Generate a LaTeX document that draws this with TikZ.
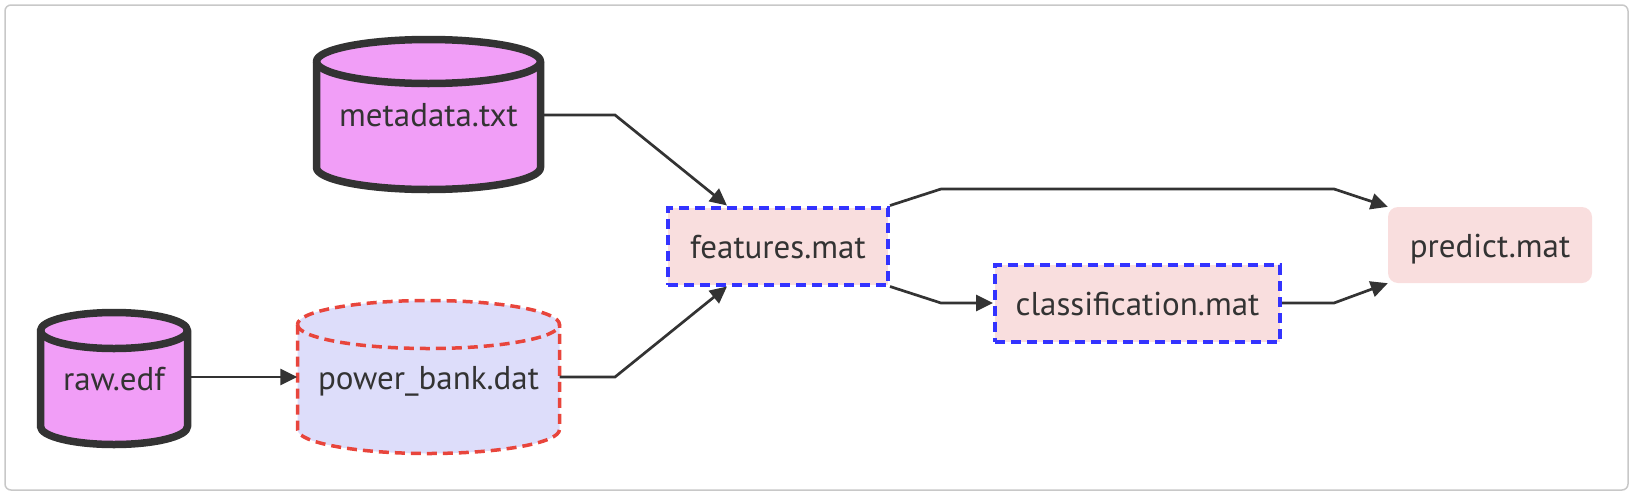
\documentclass[tikz,border=0pt]{standalone}
\usepackage{fontspec}
\setmainfont{PT Sans}
\usetikzlibrary{arrows.meta}
\definecolor{ink}{HTML}{333333}
\definecolor{violetfill}{HTML}{F19EF7}
\definecolor{lavfill}{HTML}{DDDDFA}
\definecolor{redstroke}{HTML}{E8453C}
\definecolor{pinkfill}{HTML}{F9DEDE}
\definecolor{bluestroke}{HTML}{3333FF}
\definecolor{framegray}{HTML}{C8C8C8}
\newcommand\cylshape[6]{%
  \pgfmathsetmacro\rxx{(#3-#2)/2}%
  \path[#1] (#2,#4+#6) -- (#2,#5-#6) arc[start angle=180,end angle=0,x radius=\rxx,y radius=#6] -- (#3,#4+#6) arc[start angle=0,end angle=-180,x radius=\rxx,y radius=#6] -- cycle;
  \draw[#1,fill=none] (#2,#4+#6) arc[start angle=180,end angle=0,x radius=\rxx,y radius=#6];
}
\tikzset{
  lbl/.style={font=\fontsize{33}{38}\selectfont, text=ink, inner sep=0pt, draw=none, text height=24pt, text depth=0pt},
  thickcyl/.style={draw=ink, line width=7.5pt, fill=violetfill, line join=round},
  dashcyl/.style={draw=redstroke, line width=3.5pt, fill=lavfill, dash pattern=on 10pt off 6pt},
  dashbox/.style={lbl, rectangle, draw=bluestroke, line width=4pt, fill=pinkfill, dash pattern=on 10pt off 6pt},
  softbox/.style={lbl, rectangle, fill=pinkfill, rounded corners=10pt},
  link/.style={draw=ink, line width=2.7pt, -{Triangle[length=17pt,width=16pt]}},
}
\begin{document}
\begin{tikzpicture}[x=1pt,y=-1pt]
\useasboundingbox (0,0) rectangle (1634,496);
\draw[framegray, line width=1.5pt, rounded corners=6pt] (5,5) rectangle (1628,490);
% cylinders
\cylshape{thickcyl}{316.5}{540.5}{39.5}{189.5}{22}
\node[lbl, minimum width=224pt, minimum height=150pt] (meta) at (428.5,114.5) {metadata.txt};
\cylshape{thickcyl}{40.5}{187.5}{312.5}{444.5}{18}
\node[lbl, minimum width=147pt, minimum height=132pt] (raw) at (114,378.5) {raw.edf};
\cylshape{dashcyl}{297.5}{559.5}{300.5}{453.5}{24}
\node[lbl, minimum width=262pt, minimum height=153pt] (power) at (428.5,377) {power\_bank.dat};
% boxes
\node[dashbox, minimum width=220pt, minimum height=77pt] (feat) at (778,246) {features.mat};
\node[dashbox, minimum width=285pt, minimum height=77pt] (class) at (1137.5,303) {classification.mat};
\node[softbox, minimum width=204pt, minimum height=76pt] (pred) at (1490,245) {predict.mat};
% links
\draw[link] (raw.east |- 0,377) -- (power.west |- 0,377);
\draw[link] (meta.east |- 0,115) -- (615,115) -- ([xshift=-51pt]feat.north);
\draw[link] (power.east |- 0,377) -- (615,377) -- ([xshift=-51pt]feat.south);
\draw[link] (feat.north east) -- (941,189) -- (1334,189) -- (pred.north west);
\draw[link] (feat.south east) -- (941,303) -- (class.west);
\draw[link] (class.east) -- (1334,303) -- (pred.south west);
\end{tikzpicture}
\end{document}
